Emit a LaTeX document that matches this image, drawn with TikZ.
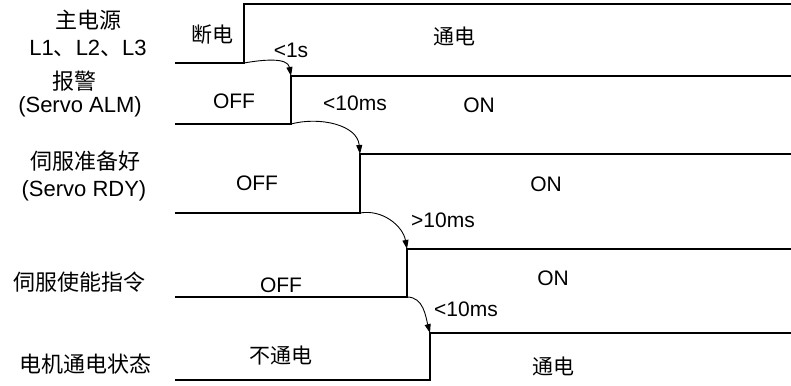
\documentclass[tikz,border=0pt]{standalone}
\usepackage{fontspec}
\setmainfont{Liberation Sans}
\newfontfamily\cjk{Noto Sans CJK SC}
\usepackage{tikz}
\usetikzlibrary{arrows.meta}

\begin{document}
\begin{tikzpicture}[
  x=1pt, y=1pt,
  every node/.style={inner sep=0pt, font=\fontsize{21}{25}\selectfont},
  signame/.style={font=\fontsize{22}{26}\selectfont},
  wave/.style={line width=2.4pt},
  delay/.style={->, line width=0.9pt},
]
\tikzset{>={Triangle[length=9pt, width=6pt]}}
\useasboundingbox (0,0) rectangle (791,-385);

% signal names
\node[signame] (pwr)  at (88,-20)  {\cjk 主电源};
\node[signame] (pwrL) at (88,-48)  {L1{\cjk 、}L2{\cjk 、}L3};
\node[signame] (alm)  at (74,-81)  {\cjk 报警};
\node[signame] (almS) at (80,-107) {(Servo ALM)};
\node[signame] (rdy)  at (85,-161) {\cjk 伺服准备好};
\node[signame] (rdyS) at (84,-191) {(Servo RDY)};
\node[signame] (en)   at (79,-282) {\cjk 伺服使能指令};
\node[signame] (mot)  at (85,-364) {\cjk 电机通电状态};

% waveforms: name/edge/low/high
\foreach \n/\x/\lo/\hi in {p/244/63/4, a/291/124/76, r/360/213/154, e/407/297/249, m/430/380/333} {
  \coordinate (\n lo) at (\x,-\lo);
  \coordinate (\n hi) at (\x,-\hi);
  \draw[wave] (175,-\lo) -- (\n lo) -- (\n hi) -- (791,-\hi);
}

% states
\node (p0) at (212,-35)  {\cjk 断电};
\node (p1) at (454,-36)  {\cjk 通电};
\node (a0) at (234,-101) {OFF};
\node (a1) at (479,-105) {ON};
\node (r0) at (257,-183) {OFF};
\node (r1) at (546,-184) {ON};
\node (e0) at (281,-285) {OFF};
\node (e1) at (553,-278) {ON};
\node (m0) at (281,-356) {\cjk 不通电};
\node (m1) at (553,-366) {\cjk 通电};

% delays
\node (d1) at (291,-50)  {<1s};
\node (d2) at (355,-103) {<10ms};
\node (d3) at (443,-220) {>10ms};
\node (d4) at (466,-309) {<10ms};

\draw[delay] (plo) to[out=10, in=100] (ahi);
\draw[delay] (alo) to[out=15, in=95] (rhi);
\draw[delay] (rlo) to[out=10, in=100] (ehi);
\draw[delay] (elo) to[out=0, in=105] (mhi);
\end{tikzpicture}
\end{document}
